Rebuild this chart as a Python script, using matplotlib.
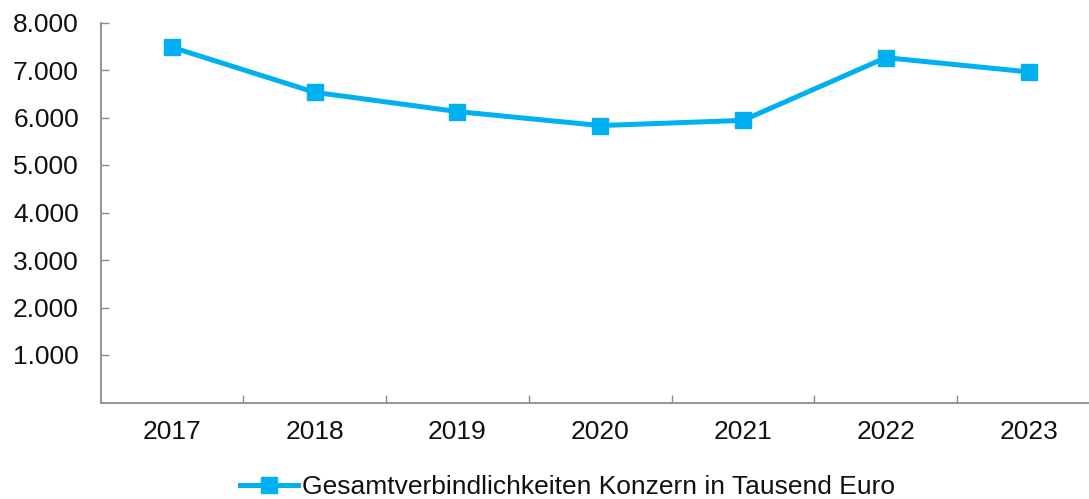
import matplotlib
matplotlib.use("Agg")
import matplotlib.pyplot as plt
from matplotlib.ticker import FixedLocator, FuncFormatter

years = ["2017", "2018", "2019", "2020", "2021", "2022", "2023"]
values = [7480, 6530, 6125, 5830, 5940, 7260, 6960]
y_ticks = [1000, 2000, 3000, 4000, 5000, 6000, 7000, 8000]
series_label = "Gesamtverbindlichkeiten Konzern in Tausend Euro"

plt.rcParams['font.family'] = ['Liberation Sans', 'DejaVu Sans']
color = "#00B0F0"
W, H = 1089, 499
fig = plt.figure(figsize=(W / 100, H / 100), dpi=100)
x0, x1 = 100.5, 1100.0
ytop, ybot = 22.5, 402.5
ax = fig.add_axes([x0 / W, 1 - ybot / H, (x1 - x0) / W, (ybot - ytop) / H])

xs = list(range(len(years)))
line, = ax.plot(xs, values, color=color, lw=3.6, marker="s", markersize=12,
                markerfacecolor=color, markeredgecolor=color, label=series_label,
                solid_joinstyle="round", clip_on=False)

ax.set_xlim(-0.5, len(years) - 0.5)
ax.set_ylim(0, 8000)
ax.yaxis.set_major_locator(FixedLocator(y_ticks))
ax.yaxis.set_major_formatter(FuncFormatter(lambda v, p: f"{int(v):,}".replace(",", ".")))
ax.set_xticks(xs)
ax.set_xticklabels(years)
ax.set_xticks([i + 0.5 for i in xs[:-1]], minor=True)

for s in ["top", "right"]:
    ax.spines[s].set_visible(False)
for s in ["left", "bottom"]:
    ax.spines[s].set_color("#8c8c8c")
    ax.spines[s].set_linewidth(1.3)

fs = 19
ax.tick_params(axis="y", direction="in", length=6, width=1, color="#8c8c8c",
               labelsize=fs, pad=15.5, labelcolor="#111111")
ax.tick_params(axis="x", which="major", length=0, labelsize=fs, pad=12.5,
               labelcolor="#111111")
ax.tick_params(axis="x", which="minor", direction="in", length=6, width=1,
               color="#8c8c8c")

leg = fig.legend(handles=[line], loc="center", bbox_to_anchor=(567.5 / W, 1 - 487 / H),
                 frameon=False, fontsize=fs, handlelength=2.2, handletextpad=0.15,
                 borderpad=0, labelcolor="#111111")

fig.savefig("out.png", dpi=100)
